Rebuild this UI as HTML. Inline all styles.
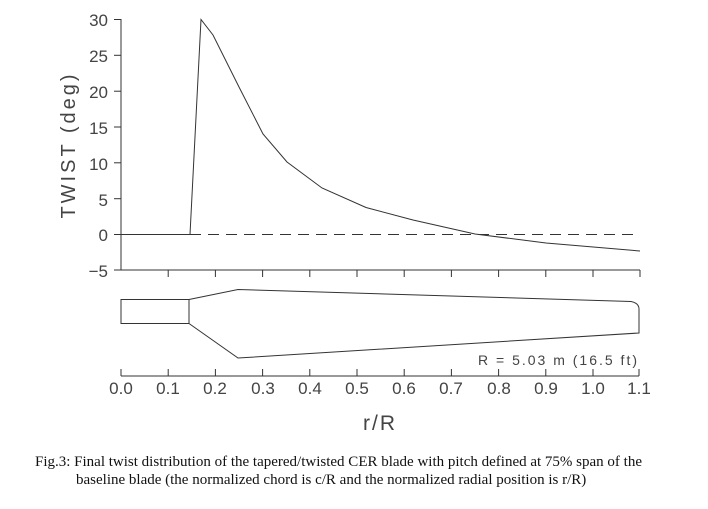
<!DOCTYPE html>
<html><head><style>
body{margin:0;background:#fff;width:708px;height:504px;overflow:hidden}
svg text{font-family:"Liberation Sans",sans-serif;fill:#444}
</style></head><body>
<svg width="708" height="504" xmlns="http://www.w3.org/2000/svg">
<g stroke="#333" stroke-width="1" fill="none">
<line x1="121" y1="19" x2="121" y2="270"/>
<line x1="121" y1="270" x2="640" y2="270"/>
<g>
<line x1="114" y1="19.5" x2="121" y2="19.5"/><line x1="114" y1="55.3" x2="121" y2="55.3"/>
<line x1="114" y1="91.2" x2="121" y2="91.2"/><line x1="114" y1="127" x2="121" y2="127"/>
<line x1="114" y1="162.8" x2="121" y2="162.8"/><line x1="114" y1="198.7" x2="121" y2="198.7"/>
<line x1="114" y1="234.5" x2="121" y2="234.5"/><line x1="114" y1="270" x2="121" y2="270"/>
</g>
<g>
<line x1="168.2" y1="270" x2="168.2" y2="277"/><line x1="215.4" y1="270" x2="215.4" y2="277"/>
<line x1="262.6" y1="270" x2="262.6" y2="277"/><line x1="309.8" y1="270" x2="309.8" y2="277"/>
<line x1="357" y1="270" x2="357" y2="277"/><line x1="404.2" y1="270" x2="404.2" y2="277"/>
<line x1="451.4" y1="270" x2="451.4" y2="277"/><line x1="498.6" y1="270" x2="498.6" y2="277"/>
<line x1="545.8" y1="270" x2="545.8" y2="277"/><line x1="593" y1="270" x2="593" y2="277"/>
<line x1="640" y1="270" x2="640" y2="277"/>
</g>
<line x1="190" y1="234.5" x2="640" y2="234.5" stroke-dasharray="11,7"/>
<polyline points="121,234.5 190,234.5 201,19.5 213,35 239,87 263,134 287,162 322,188 366,207.5 413,220 475,234 546,243 640,251"/>
<rect x="121" y="299.5" width="68" height="24"/>
<path d="M189,299.5 L238,289.5 L631,301.5 Q639,303 639,309 L639,333 L238,358 L189,323.5"/>
<line x1="121" y1="376" x2="639" y2="376"/>
<g>
<line x1="121" y1="369" x2="121" y2="376"/><line x1="168.2" y1="369" x2="168.2" y2="376"/>
<line x1="215.4" y1="369" x2="215.4" y2="376"/><line x1="262.6" y1="369" x2="262.6" y2="376"/>
<line x1="309.8" y1="369" x2="309.8" y2="376"/><line x1="357" y1="369" x2="357" y2="376"/>
<line x1="404.2" y1="369" x2="404.2" y2="376"/><line x1="451.4" y1="369" x2="451.4" y2="376"/>
<line x1="498.6" y1="369" x2="498.6" y2="376"/><line x1="545.8" y1="369" x2="545.8" y2="376"/>
<line x1="593" y1="369" x2="593" y2="376"/><line x1="639" y1="369" x2="639" y2="376"/>
</g>
</g>
<g font-size="17" text-anchor="end">
<text x="108" y="26">30</text><text x="108" y="62">25</text><text x="108" y="98">20</text>
<text x="108" y="134">15</text><text x="108" y="170">10</text><text x="108" y="206">5</text>
<text x="108" y="241">0</text><text x="108" y="277">−5</text>
</g>
<text transform="translate(75,145) rotate(-90)" font-size="20" text-anchor="middle" letter-spacing="3">TWIST (deg)</text>
<text x="639" y="365" font-size="14" text-anchor="end" letter-spacing="2">R = 5.03 m (16.5 ft)</text>
<g font-size="17" text-anchor="middle">
<text x="121" y="394">0.0</text><text x="168" y="394">0.1</text><text x="215" y="394">0.2</text>
<text x="263" y="394">0.3</text><text x="310" y="394">0.4</text><text x="357" y="394">0.5</text>
<text x="404" y="394">0.6</text><text x="451" y="394">0.7</text><text x="499" y="394">0.8</text>
<text x="546" y="394">0.9</text><text x="593" y="394">1.0</text><text x="639" y="394">1.1</text>
</g>
<text x="380" y="430" font-size="21" text-anchor="middle" letter-spacing="2">r/R</text>
<text x="35" y="466" font-size="15" style="font-family:'Liberation Serif',serif;fill:#111">Fig.3:  Final twist distribution of the tapered/twisted CER blade with pitch defined at 75% span of the</text>
<text x="76" y="484" font-size="15" style="font-family:'Liberation Serif',serif;fill:#111">baseline blade (the normalized chord is c/R and the normalized radial position is r/R)</text>
</svg>
</body></html>
